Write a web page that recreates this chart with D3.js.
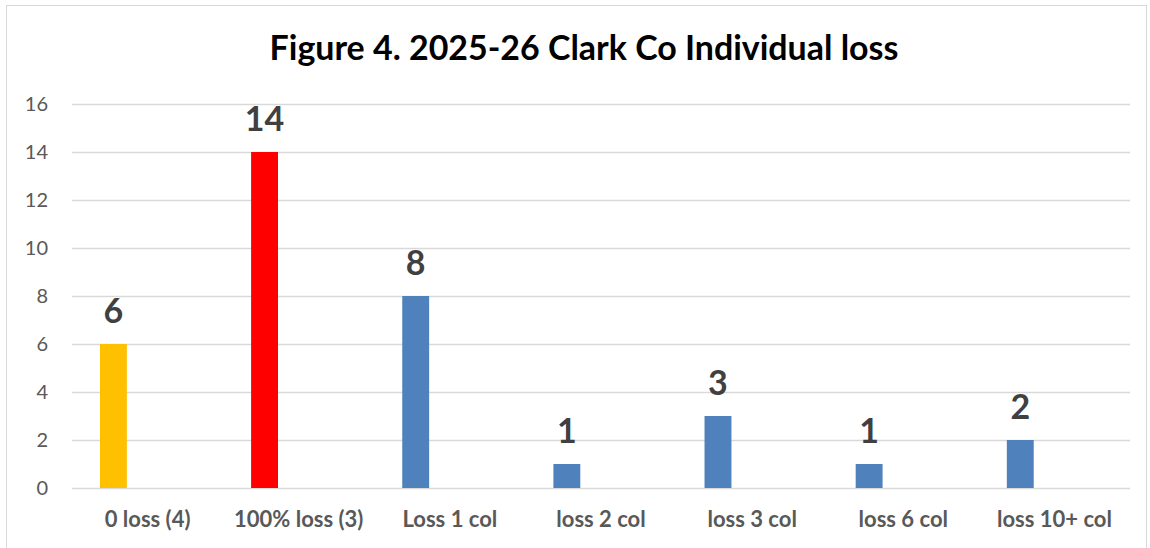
<!DOCTYPE html>
<html>
<head>
<meta charset="utf-8">
<script src="https://cdn.jsdelivr.net/npm/d3@7"></script>
<style>
  body { margin: 0; background: #fff; }
  svg { display: block; }
</style>
</head>
<body>
<script>
// data
var categories = ["0 loss (4)", "100% loss (3)", "Loss 1 col", "loss 2 col", "loss 3 col", "loss 6 col", "loss 10+ col"];
var values = [6, 14, 8, 1, 3, 1, 2];
var barColors = ["#FFC000", "#FF0000", "#4F81BD", "#4F81BD", "#4F81BD", "#4F81BD", "#4F81BD"];
var yTicks = [0, 2, 4, 6, 8, 10, 12, 14, 16];
var title = "Figure 4. 2025-26 Clark Co Individual loss";

var W = 1150, H = 548;
var margin = {left: 72, right: 20, top: 104, bottom: 60};
var font = "Lato, 'Open Sans', sans-serif";

var svg = d3.select("body").append("svg")
    .attr("width", W)
    .attr("height", H);

// chart frame
svg.append("rect")
    .attr("x", 6.5).attr("y", 5.5)
    .attr("width", 1140).attr("height", 560)
    .attr("fill", "#fff")
    .attr("stroke", "#d9d9d9")
    .attr("stroke-width", 1);

var x = d3.scaleBand()
    .domain(categories)
    .range([margin.left, W - margin.right])
    .paddingInner(0).paddingOuter(0);

var y = d3.scaleLinear()
    .domain([0, 16])
    .range([H - margin.bottom, margin.top]);

// grid
var grid = d3.axisLeft(y)
    .tickValues(yTicks)
    .tickSize(-(W - margin.right - margin.left))
    .tickFormat("");
svg.append("g")
    .attr("class", "grid")
    .attr("transform", "translate(" + margin.left + ",0)")
    .call(grid)
    .call(function(g) {
        g.select(".domain").remove();
        g.selectAll("line").attr("stroke", "#d9d9d9").attr("stroke-width", 1.3);
    });

// y axis labels
var axisY = d3.axisLeft(y).tickValues(yTicks).tickSize(0).tickPadding(24);
svg.append("g")
    .attr("transform", "translate(" + margin.left + ",0)")
    .call(axisY)
    .call(function(g) {
        g.select(".domain").remove();
        g.selectAll("text")
            .attr("fill", "#595959")
            .style("font-family", font)
            .style("font-size", "20px");
    });

// x axis labels
var axisX = d3.axisBottom(x).tickSize(0).tickPadding(0);
svg.append("g")
    .attr("transform", "translate(0," + (H - margin.bottom) + ")")
    .call(axisX)
    .call(function(g) {
        g.select(".domain").remove();
        g.selectAll("text")
            .attr("dy", null)
            .attr("y", 39)
            .attr("fill", "#595959")
            .style("font-family", font)
            .style("font-weight", "bold")
            .style("font-size", "22px");
    });

// bars sit left of centre in each band (empty second series in the original)
var barOff = x.bandwidth() * 0.185,
    barW = x.bandwidth() * 0.178;

svg.append("g").selectAll("rect")
    .data(values)
    .join("rect")
        .attr("x", function(d, i) { return x(categories[i]) + barOff; })
        .attr("y", function(d) { return y(d); })
        .attr("width", barW)
        .attr("height", function(d) { return y(0) - y(d); })
        .attr("fill", function(d, i) { return barColors[i]; });

// value labels
svg.append("g").selectAll("text")
    .data(values)
    .join("text")
        .attr("x", function(d, i) { return x(categories[i]) + barOff + barW / 2; })
        .attr("y", function(d) { return y(d) - 21; })
        .attr("text-anchor", "middle")
        .attr("fill", "#404040")
        .style("font-family", font)
        .style("font-weight", "bold")
        .style("font-size", "34px")
        .text(function(d) { return d; });

// title
var t = svg.append("text")
    .attr("x", 584)
    .attr("y", 60)
    .attr("text-anchor", "middle")
    .attr("fill", "#000")
    .style("font-family", font)
    .style("font-weight", "bold")
    .style("font-size", "32px")
    .text(title);
// fit to the width seen in the reference
var tw = t.node().getComputedTextLength();
t.style("font-size", (32 * 629 / tw) + "px");
</script>
</body>
</html>
